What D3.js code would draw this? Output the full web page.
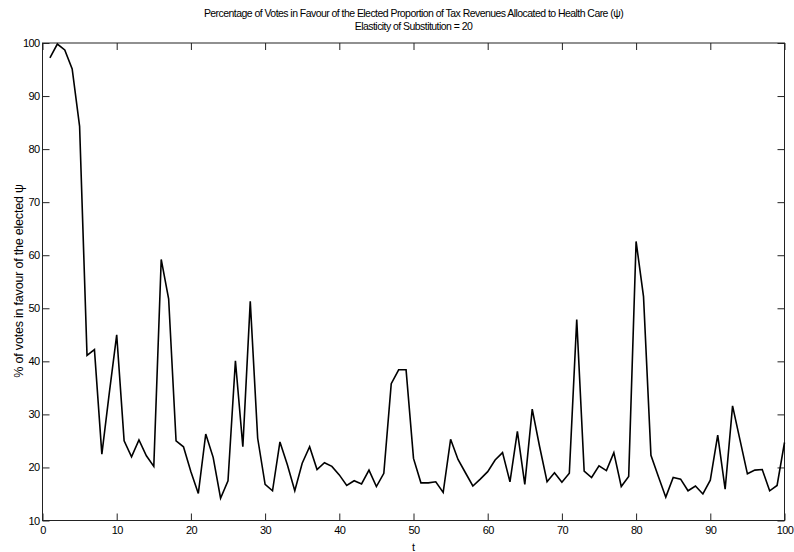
<!DOCTYPE html>
<html>
<head>
<meta charset="utf-8">
<script src="https://cdn.jsdelivr.net/npm/d3@7"></script>
<style>
  body { margin: 0; background: #fff; }
  text { font-family: "Liberation Sans", Arial, sans-serif; fill: #000; }
</style>
</head>
<body>
<div class="canva"></div>
<script>
const width = 794;
const height = 552;

// data, t = 1..100
const t = d3.range(1, 101);
const votes = [
  97.2, 99.8, 98.7, 95.1, 84.3, 41.1, 42.2, 22.5, 34.0, 45.0,
  25.0, 22.0, 25.2, 22.2, 20.2, 59.2, 51.8, 25.0, 23.9, 19.2,
  15.1, 26.3, 21.9, 14.2, 17.5, 40.1, 23.9, 51.3, 25.5, 16.8,
  15.6, 24.8, 20.5, 15.6, 20.8, 23.9, 19.6, 20.9, 20.2, 18.6,
  16.6, 17.5, 16.9, 19.5, 16.4, 18.9, 35.8, 38.4, 38.4, 21.7,
  17.1, 17.1, 17.3, 15.3, 25.3, 21.5, 19.0, 16.5, 17.8, 19.2,
  21.4, 22.8, 17.3, 26.8, 16.8, 31.0, 23.9, 17.3, 19.0, 17.2,
  18.9, 47.9, 19.3, 18.1, 20.3, 19.4, 22.8, 16.4, 18.3, 62.6,
  52.2, 22.3, 18.3, 14.4, 18.1, 17.8, 15.6, 16.5, 15.0, 17.6,
  26.1, 15.9, 31.6, 25.2, 18.8, 19.5, 19.6, 15.6, 16.6, 24.7
];
const xTicks = d3.range(0, 101, 10);
const yTicks = d3.range(10, 101, 10);

const titleLines = [
  "Percentage of Votes in Favour of the Elected Proportion of Tax Revenues Allocated to Health Care (\u03C8)",
  "Elasticity of Substitution = 20"
];

const margin = {top: 43, right: 9.5, bottom: 31.5, left: 42.5};
const iw = width - margin.left - margin.right;
const ih = height - margin.top - margin.bottom;

const svg = d3.select(".canva").append("svg")
    .attr("width", width)
    .attr("height", height);

const x = d3.scaleLinear().domain([0, 100]).range([0, iw]);
const y = d3.scaleLinear().domain([10, 100]).range([ih, 0]);

const g = svg.append("g")
    .attr("transform", `translate(${margin.left},${margin.top})`);

// box
g.append("rect")
    .attr("width", iw)
    .attr("height", ih)
    .attr("fill", "none")
    .attr("stroke", "#222")
    .attr("stroke-width", 1);

// inward ticks, all four sides
const tl = 7;
g.append("g")
    .attr("transform", `translate(0,${ih})`)
    .call(d3.axisBottom(x).tickValues(xTicks).tickSizeInner(-tl).tickSizeOuter(0).tickPadding(6))
    .call(a => a.select(".domain").remove());
g.append("g")
    .call(d3.axisTop(x).tickValues(xTicks).tickSizeInner(-tl).tickSizeOuter(0).tickFormat(""))
    .call(a => a.select(".domain").remove());
g.append("g")
    .call(d3.axisLeft(y).tickValues(yTicks).tickSizeInner(-tl).tickSizeOuter(0).tickPadding(3))
    .call(a => a.select(".domain").remove());
g.append("g")
    .attr("transform", `translate(${iw},0)`)
    .call(d3.axisRight(y).tickValues(yTicks).tickSizeInner(-tl).tickSizeOuter(0).tickFormat(""))
    .call(a => a.select(".domain").remove());

g.selectAll(".tick line").attr("stroke", "#222");
g.selectAll(".tick text")
    .style("font-family", "'Liberation Sans', Arial, sans-serif")
    .style("font-size", "11px")
    .style("letter-spacing", "-0.6px")
    .attr("fill", "#000");

// series
const line = d3.line()
    .x((d, i) => x(t[i]))
    .y(d => y(d));

g.append("path")
    .datum(votes)
    .attr("d", line)
    .attr("fill", "none")
    .attr("stroke", "#000")
    .attr("stroke-width", 1.6)
    .attr("stroke-linejoin", "miter");

// titles
svg.selectAll(".title")
    .data(titleLines)
    .enter()
    .append("text")
    .attr("class", "title")
    .attr("x", margin.left + iw / 2)
    .attr("y", (d, i) => 17 + i * 13)
    .attr("text-anchor", "middle")
    .style("font-size", "10.5px")
    .style("letter-spacing", "-0.55px")
    .text(d => d);

svg.append("text")
    .attr("x", margin.left + iw / 2)
    .attr("y", 551)
    .attr("text-anchor", "middle")
    .style("font-size", "11px")
    .text("t");

svg.append("text")
    .attr("transform", `translate(22.5,281) rotate(-90)`)
    .attr("text-anchor", "middle")
    .style("font-size", "12.5px")
    .style("letter-spacing", "-0.2px")
    .text("% of votes in favour of the elected \u03C8");
</script>
</body>
</html>
